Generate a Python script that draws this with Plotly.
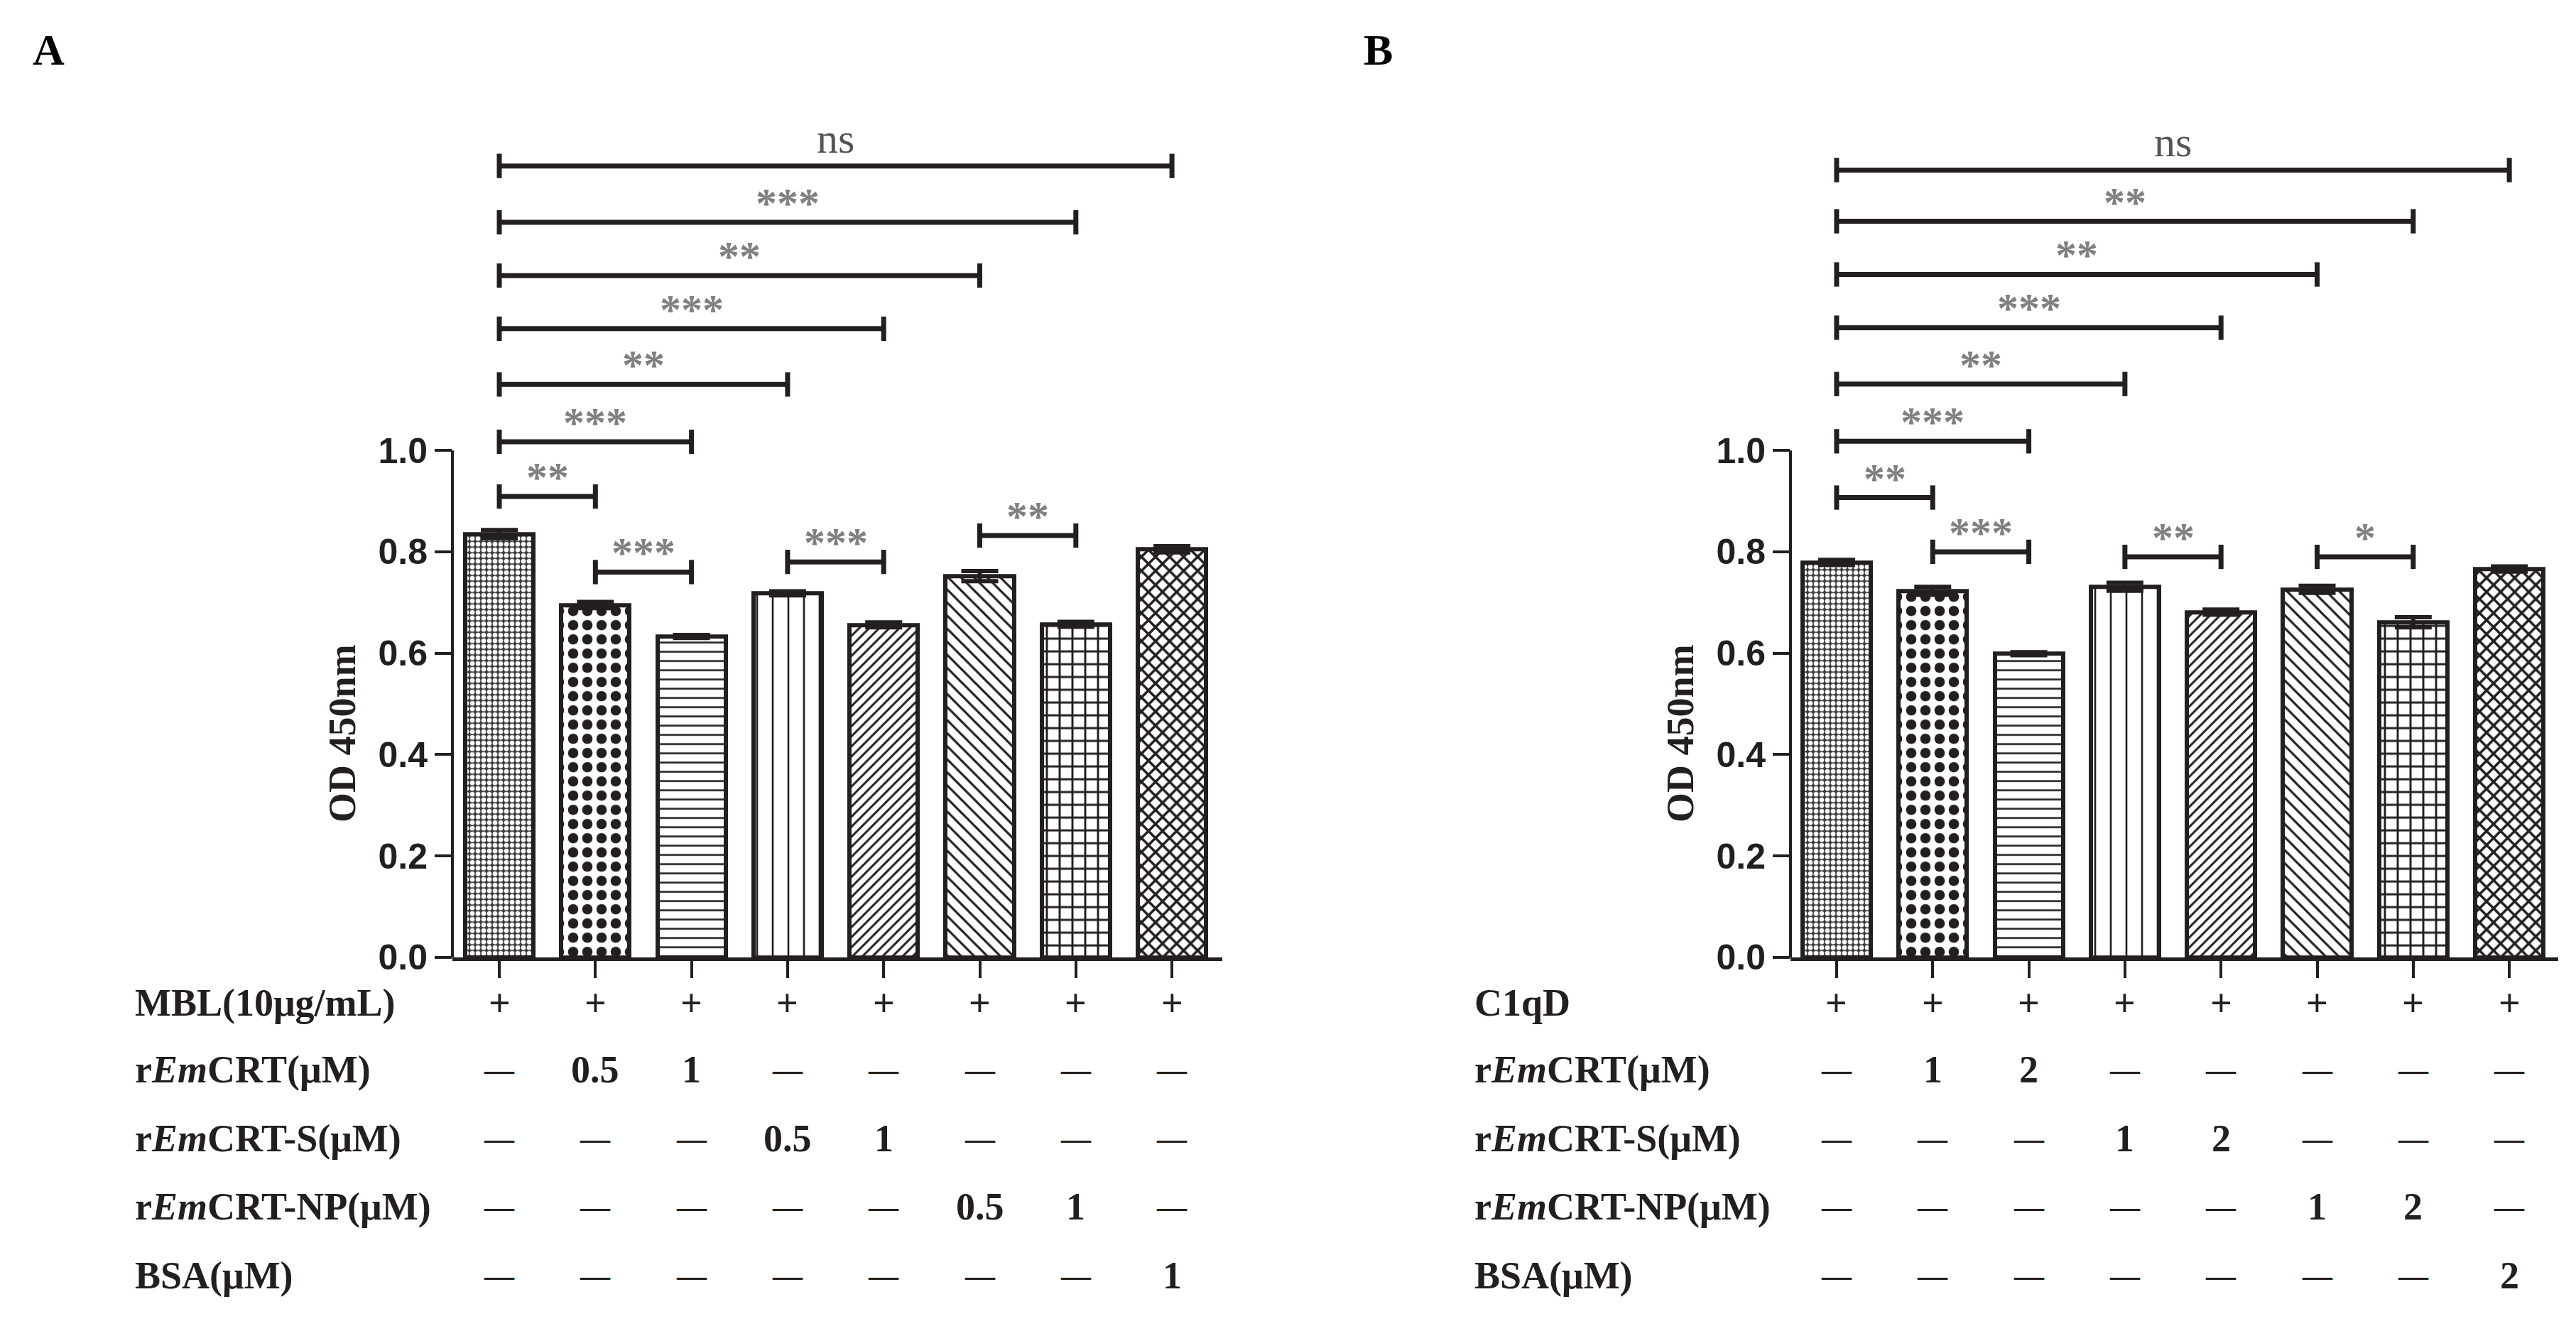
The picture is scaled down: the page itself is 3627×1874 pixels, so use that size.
import plotly.graph_objects as go

W, H = 3627, 1874

# ---- data ----
groups = [0, 1, 2, 3, 4, 5, 6, 7]

od_mbl = [0.835, 0.695, 0.633, 0.718, 0.656, 0.752, 0.657, 0.805]
sem_mbl = [0.008, 0.006, 0.003, 0.004, 0.005, 0.010, 0.005, 0.006]

od_c1qd = [0.779, 0.723, 0.599, 0.731, 0.681, 0.726, 0.661, 0.766]
sem_c1qd = [0.005, 0.008, 0.003, 0.008, 0.005, 0.007, 0.010, 0.005]

# (from group, to group, bracket height in OD units, label)
sig_mbl = [
    (0, 1, 0.909, "**"), (0, 2, 1.017, "***"), (0, 3, 1.130, "**"),
    (0, 4, 1.240, "***"), (0, 5, 1.345, "**"), (0, 6, 1.450, "***"),
    (0, 7, 1.561, "ns"),
    (1, 2, 0.760, "***"), (3, 4, 0.780, "***"), (5, 6, 0.832, "**"),
]
sig_c1qd = [
    (0, 1, 0.907, "**"), (0, 2, 1.018, "***"), (0, 3, 1.131, "**"),
    (0, 4, 1.242, "***"), (0, 5, 1.347, "**"), (0, 6, 1.452, "**"),
    (0, 7, 1.553, "ns"),
    (1, 2, 0.800, "***"), (3, 4, 0.790, "**"), (5, 6, 0.790, "*"),
]

D = "—"
row_names_mbl = ["MBL(10μg/mL)", "r<i>Em</i>CRT(μM)", "r<i>Em</i>CRT-S(μM)",
                 "r<i>Em</i>CRT-NP(μM)", "BSA(μM)"]
rows_mbl = [
    ["+", "+", "+", "+", "+", "+", "+", "+"],
    [D, "0.5", "1", D, D, D, D, D],
    [D, D, D, "0.5", "1", D, D, D],
    [D, D, D, D, D, "0.5", "1", D],
    [D, D, D, D, D, D, D, "1"],
]
row_names_c1qd = ["C1qD", "r<i>Em</i>CRT(μM)", "r<i>Em</i>CRT-S(μM)",
                  "r<i>Em</i>CRT-NP(μM)", "BSA(μM)"]
rows_c1qd = [
    ["+", "+", "+", "+", "+", "+", "+", "+"],
    [D, "1", "2", D, D, D, D, D],
    [D, D, D, "1", "2", D, D, D],
    [D, D, D, D, D, "1", "2", D],
    [D, D, D, D, D, D, D, "2"],
]

# ---- styling ----
INK = "#231f20"
GREY = "#808080"
SERIF = "Liberation Serif"
SANS = "Liberation Sans"

patterns = [
    dict(shape=".", size=8, solidity=0.55, fgcolor="white", bgcolor="#3a3a3a"),
    dict(shape=".", size=20, solidity=0.42, fgcolor=INK, bgcolor="white"),
    dict(shape="-", size=13, solidity=0.2, fgcolor=INK, bgcolor="white"),
    dict(shape="|", size=22, solidity=0.12, fgcolor=INK, bgcolor="white"),
    dict(shape="/", size=10, solidity=0.3, fgcolor=INK, bgcolor="white"),
    dict(shape="\\", size=13, solidity=0.25, fgcolor=INK, bgcolor="white"),
    dict(shape="+", size=18, solidity=0.3, fgcolor=INK, bgcolor="white"),
    dict(shape="x", size=14, solidity=0.45, fgcolor=INK, bgcolor="white"),
]

row_y_px = [1426, 1522, 1620, 1718, 1816]

fig = go.Figure()


def add_panel(xn, yn, od, sem, sig, row_names, rows, label_left, title_x, letter, letter_x):
    xref, yref = "x" + xn, "y" + yn
    for i in groups:
        fig.add_trace(go.Bar(
            x=[groups[i]], y=[od[i]], width=0.71,
            xaxis=xref, yaxis=yref,
            marker=dict(color="white", line=dict(color=INK, width=6),
                        pattern=dict(fillmode="replace", **patterns[i])),
            error_y=dict(type="data", array=[sem[i]], color=INK, thickness=6, width=26),
        ))

    # significance brackets
    bx, by = [], []
    tick = 0.024
    for a, b, h, lab in sig:
        bx += [groups[a], groups[a], None, groups[a], groups[b], None, groups[b], groups[b], None]
        by += [h - tick, h + tick, None, h, h, None, h - tick, h + tick, None]
        if lab == "ns":
            fig.add_annotation(x=(groups[a] + groups[b]) / 2, y=h, xref=xref, yref=yref,
                               text=lab, showarrow=False, xanchor="center", yanchor="bottom", yshift=4,
                               font=dict(family=SERIF, size=60, color="#555555"))
        else:
            fig.add_annotation(x=(groups[a] + groups[b]) / 2, y=h, xref=xref, yref=yref,
                               text="<b>" + lab + "</b>", showarrow=False,
                               xanchor="center", yanchor="bottom", yshift=-8,
                               font=dict(family=SERIF, size=60, color=GREY))
    fig.add_trace(go.Scatter(x=bx, y=by, mode="lines", xaxis=xref, yaxis=yref,
                             line=dict(color=INK, width=7), hoverinfo="skip"))

    # y axis line only up to 1.0
    fig.add_shape(type="line", xref=xref + " domain", yref=yref, x0=0, x1=0, y0=0, y1=1.0,
                  line=dict(color=INK, width=4))

    # treatment table
    for r, name in enumerate(row_names):
        yp = 1 - row_y_px[r] / H
        fig.add_annotation(x=label_left / W, y=yp, xref="paper", yref="paper",
                           text="<b>" + name + "</b>", showarrow=False,
                           xanchor="left", yanchor="middle",
                           font=dict(family=SERIF, size=54, color=INK))
        for i, cell in enumerate(rows[r]):
            fig.add_annotation(x=groups[i], y=yp, xref=xref, yref="paper",
                               text="<b>" + cell + "</b>", showarrow=False,
                               xanchor="center", yanchor="middle",
                               font=dict(family=SERIF, size=42 if cell == D else 54, color=INK))

    fig.add_annotation(x=title_x / W, y=1 - 1041 / H, xref="paper", yref="paper",
                       text="<b>OD 450nm</b>", textangle=-90, showarrow=False,
                       xanchor="center", yanchor="middle",
                       font=dict(family=SERIF, size=54, color=INK))
    fig.add_annotation(x=letter_x / W, y=1 - 63 / H, xref="paper", yref="paper",
                       text="<b>" + letter + "</b>", showarrow=False,
                       xanchor="center", yanchor="middle",
                       font=dict(family=SERIF, size=62, color="black"))


add_panel("", "", od_mbl, sem_mbl, sig_mbl, row_names_mbl, rows_mbl, 180, 474, "A", 60)
add_panel("2", "2", od_c1qd, sem_c1qd, sig_c1qd, row_names_c1qd, rows_c1qd, 2066, 2358, "B", 1932)

y_dom = [(H - 1361) / H, (H - 1361 + 1.65 * 725) / H]
xaxis_style = dict(showline=True, linewidth=5, linecolor=INK, ticks="outside", ticklen=24,
                   tickwidth=4, tickcolor=INK, tickvals=groups, showticklabels=False,
                   showgrid=False, zeroline=False, fixedrange=True)
yaxis_style = dict(range=[0, 1.65], domain=y_dom, showline=False, ticks="outside", ticklen=24,
                   tickwidth=4, tickcolor=INK, tickvals=[0, 0.2, 0.4, 0.6, 0.8, 1.0],
                   ticktext=["0.0", "0.2", "0.4", "0.6", "0.8", "1.0"],
                   tickfont=dict(family=SANS, size=50, color=INK, weight="bold"),
                   showgrid=False, zeroline=False)

fig.update_layout(
    width=W, height=H,
    margin=dict(l=0, r=0, t=0, b=0),
    paper_bgcolor="white", plot_bgcolor="white",
    showlegend=False, bargap=0,
    xaxis=dict(domain=[629 / W, 1713 / W], range=[-0.488, 7.524], anchor="y", **xaxis_style),
    yaxis=dict(anchor="x", **yaxis_style),
    xaxis2=dict(domain=[2513 / W, 3594 / W], range=[-0.480, 7.509], anchor="y2", **xaxis_style),
    yaxis2=dict(anchor="x2", **yaxis_style),
)

fig.write_html("out.html")
